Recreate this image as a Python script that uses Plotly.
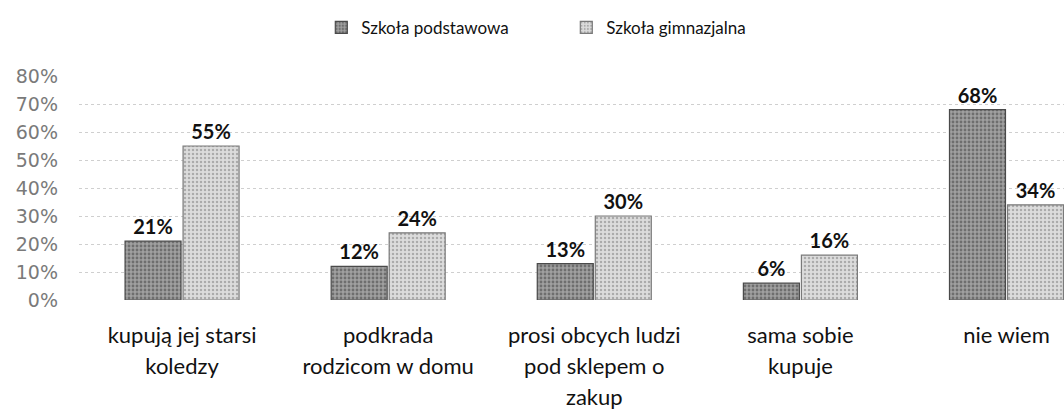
import plotly.graph_objects as go

categories = [
    "kupują jej starsi<br>koledzy",
    "podkrada<br>rodzicom w domu",
    "prosi obcych ludzi<br>pod sklepem o<br>zakup",
    "sama sobie<br>kupuje",
    "nie wiem",
]
series_names = ["Szkoła podstawowa", "Szkoła gimnazjalna"]
podstawowa = [21, 12, 13, 6, 68]
gimnazjalna = [55, 24, 30, 16, 34]
y_ticks = [0, 10, 20, 30, 40, 50, 60, 70, 80]
y_tick_labels = [f"{v}%" for v in y_ticks]


def wrap_label(s):
    lines = s.split("<br>")
    return "<br>".join(f"<span style='font-size:22px'>{l}</span>" for l in lines)


cat_labels = [wrap_label(c) for c in categories]

fig = go.Figure()
fig.add_trace(go.Bar(
    name=series_names[0], x=cat_labels, y=podstawowa,
    text=[f"{v}%" for v in podstawowa], textposition="outside", cliponaxis=False,
    textfont=dict(family="Lato", size=20, color="#111", weight="bold"),
    marker=dict(color="#8e8e8e", line=dict(color="#4a4a4a", width=1.2),
                pattern=dict(shape=".", fgcolor="#3c3c3c", bgcolor="#a0a0a0", size=4, solidity=0.4)),
))
fig.add_trace(go.Bar(
    name=series_names[1], x=cat_labels, y=gimnazjalna,
    text=[f"{v}%" for v in gimnazjalna], textposition="outside", cliponaxis=False,
    textfont=dict(family="Lato", size=20, color="#111", weight="bold"),
    marker=dict(color="#d0d0d0", line=dict(color="#7a7a7a", width=1.2),
                pattern=dict(shape=".", fgcolor="#7a7a7a", bgcolor="#dcdcdc", size=4, solidity=0.3)),
))

fig.update_layout(
    width=1064, height=413,
    margin=dict(l=79, r=0, t=76, b=113, autoexpand=False),
    paper_bgcolor="white", plot_bgcolor="white",
    barmode="group", bargap=0.437, bargroupgap=0.035,
    showlegend=True,
    legend=dict(orientation="h", x=0.246, xanchor="left", y=1.215, yanchor="middle",
                font=dict(family="Lato", size=17, color="#111"), itemwidth=30,
                entrywidth=200, traceorder="normal"),
    font=dict(family="Lato"),
)
fig.update_xaxes(
    range=[-0.5, 4.279], showgrid=False, showline=False, zeroline=False,
    tickfont=dict(family="Lato", size=24, color="#111"), ticks="", ticklabelstandoff=18,
)
fig.update_yaxes(
    range=[0, 80], tickvals=y_ticks, ticktext=y_tick_labels,
    showgrid=True, gridcolor="#cfcfcf", griddash="dot", gridwidth=1,
    zeroline=False, showline=False,
    tickfont=dict(family="DejaVu Sans", size=19, color="#7a7a7a"), ticks="", ticklabelstandoff=20,
)

fig.write_html(
    "out.html",
    config={"displayModeBar": False},
    post_script="document.body.style.margin='0';document.body.style.overflow='hidden';",
)
